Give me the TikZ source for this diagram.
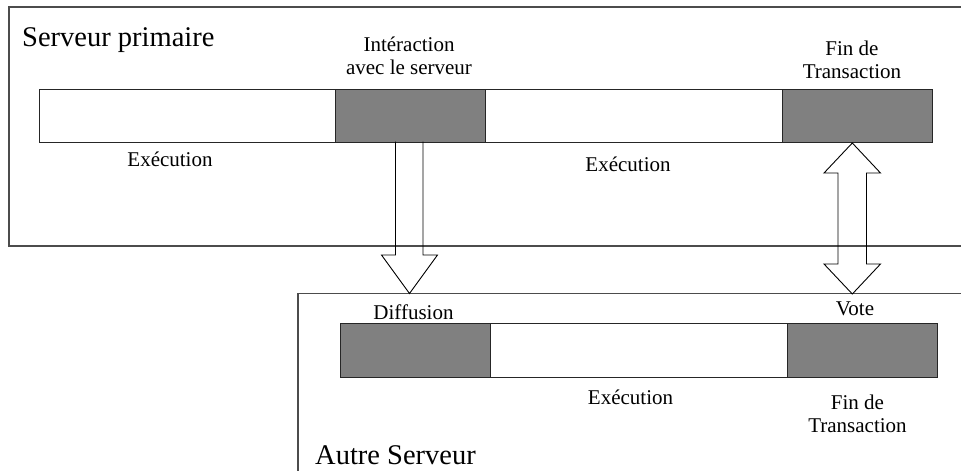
\documentclass[tikz,border=0pt]{standalone}
\usepackage{fontspec}
\setmainfont{Liberation Serif}
\begin{document}
\begin{tikzpicture}[x=1pt,y=-1pt,
  frameline/.style={draw=black!70,line width=1.2pt},
  seg/.style={draw=black!85,line width=1pt,inner sep=0pt,anchor=north west,
    minimum height=53pt,fill=white},
  darkseg/.style={seg,fill=black!50},
  blockarrow/.style={draw=black,line width=0.9pt,line join=miter},
  lbl/.style={inner sep=0pt,anchor=base,align=center,
    font=\fontsize{21pt}{23pt}\selectfont},
  title/.style={inner sep=0pt,anchor=base west,text depth=0pt,
    font=\fontsize{28.5pt}{32pt}\selectfont}]
\useasboundingbox (0,0) rectangle (961,471);

% server frames (open to the right and bottom)
\draw[frameline] (9,7) rectangle (975,246);
\draw[frameline] (298,293.5) rectangle (975,490);

% primary server timeline
\node[seg,minimum width=296pt] (s1) at (39,88.5) {};
\node[darkseg,minimum width=150pt] (s2) at (335,88.5) {};
\node[seg,minimum width=297pt] (s3) at (485,88.5) {};
\node[darkseg,minimum width=150pt] (s4) at (782,88.5) {};

% other server timeline
\node[darkseg,minimum width=150pt,minimum height=54pt] (t1) at (340,323) {};
\node[seg,minimum width=297pt,minimum height=54pt] (t2) at (490,323) {};
\node[darkseg,minimum width=149.5pt,minimum height=54pt] (t3) at (787,323) {};

% broadcast arrow
\draw[blockarrow] (395.5,141.5) -- (395.5,255) -- (381.5,255) -- (409.5,293.5)
  -- (437.5,255) -- (423,255) -- (423,141.5);

% vote arrow (both directions)
\draw[blockarrow] (852.3,143) -- (880.5,173) -- (866.5,173) -- (866.5,264)
  -- (880.5,264) -- (852.3,294) -- (824,264) -- (838,264) -- (838,173)
  -- (824,173) -- cycle;

% labels (multi-line labels are placed by their last baseline)
\node[title] (ptitle) at (22,46) {Serveur primaire};
\node[lbl] (inter) at (409,74) {Intéraction\\avec le serveur};
\node[lbl] (fin1) at (852,78) {Fin de\\Transaction};
\node[lbl] (exec1) at (170,166.5) {Exécution};
\node[lbl] (exec2) at (628,171.5) {Exécution};
\node[lbl] (diff) at (413.5,319) {Diffusion};
\node[lbl] (vote) at (855,315) {Vote};
\node[lbl] (exec3) at (630.5,404) {Exécution};
\node[lbl] (fin2) at (857.5,432) {Fin de\\Transaction};
\node[title] (otitle) at (315,464.5) {Autre Serveur};
\end{tikzpicture}
\end{document}
